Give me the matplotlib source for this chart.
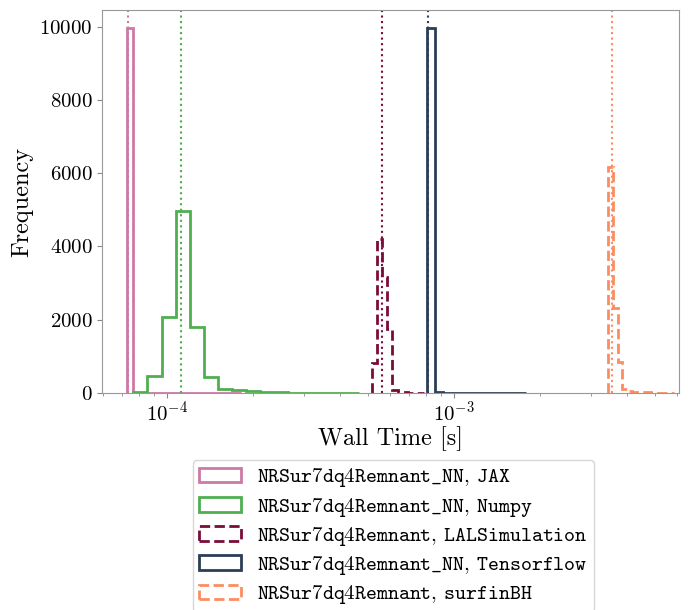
import numpy as np
import matplotlib
matplotlib.use("Agg")
import matplotlib.pyplot as plt

plt.rcParams["font.family"] = "serif"
plt.rcParams["font.serif"] = ["cmr10"]
plt.rcParams["mathtext.fontset"] = "cm"
plt.rcParams["axes.formatter.use_mathtext"] = True

# log10 of bin range (lo, hi) and counts per bin for each timing run
labels = [
	r"$\mathtt{NRSur7dq4Remnant\_NN}$, $\mathtt{JAX}$",
	r"$\mathtt{NRSur7dq4Remnant\_NN}$, $\mathtt{Numpy}$",
	r"$\mathtt{NRSur7dq4Remnant}$, $\mathtt{LALSimulation}$",
	r"$\mathtt{NRSur7dq4Remnant\_NN}$, $\mathtt{Tensorflow}$",
	r"$\mathtt{NRSur7dq4Remnant}$, $\mathtt{surfinBH}$",
]
colors = ["#cc79a7", "#4faf4f", "#7a0c38", "#2c3e55", "#fc8d62"]
styles = ["-", "-", "--", "-", "--"]

jax_range = (-4.1371, -3.7400)
jax_counts = [9956, 14, 8, 5, 3, 3, 2, 1, 1, 1, 0, 1, 0, 0, 1, 0, 0, 0, 1]

numpy_range = (-4.1163, -3.3310)
numpy_counts = [40, 470, 2080, 4975, 1800, 425, 117, 90, 45, 25, 15, 10, 8, 5, 3, 2]

lal_range = (-3.2865, -3.1055)
lal_counts = [820, 4210, 3165, 1745, 70, 35, 20, 12, 6, 4]

tf_range = (-3.0950, -2.7482)
tf_counts = [9950, 20, 10, 6, 4, 3, 2, 1, 1, 1, 1, 1]

surfin_range = (-2.4629, -2.2339)
surfin_counts = [6160, 2330, 860, 110, 60, 40, 30, 20, 15, 10, 8, 5, 3, 2]

# median wall times (log10 s)
medians = [-4.1357, -3.9513, -3.2517, -3.0915, -2.4511]

ranges = [jax_range, numpy_range, lal_range, tf_range, surfin_range]
counts = [jax_counts, numpy_counts, lal_counts, tf_counts, surfin_counts]

fig = plt.figure(figsize=(6.9, 6.1), dpi=100)
ax = fig.add_axes([0.148, 0.3557, 0.836, 0.628])

for rng, cnt, col, ls, lab, med in zip(ranges, counts, colors, styles, labels, medians):
	edges = np.logspace(rng[0], rng[1], len(cnt) + 1)
	ax.hist(edges[:-1], bins=edges, weights=cnt, histtype="step",
		color=col, linestyle=ls, linewidth=2, label=lab)
	ax.axvline(10 ** med, color=col, linestyle=":", linewidth=1.5)

ax.set_xscale("log")
ax.set_xlim(10 ** -4.2252, 10 ** -2.2166)
ax.set_xlabel("Wall Time [s]", fontsize=17.5, labelpad=1)
ax.set_ylabel("Frequency", fontsize=17.5)
ax.tick_params(axis="both", which="both", colors="#888888", labelcolor="black")
ax.tick_params(axis="both", which="major", labelsize=15)
ax.tick_params(axis="x", which="major", pad=2)
for s in ax.spines.values():
	s.set_color("#999999")

fig.legend(loc="upper center", bbox_to_anchor=(0.5703, 0.2459),
	bbox_transform=fig.transFigure, fontsize=15, handlelength=2.0,
	labelspacing=0.3, borderpad=0.3, borderaxespad=0, edgecolor="#cccccc")

fig.savefig("out.png", dpi=100)
